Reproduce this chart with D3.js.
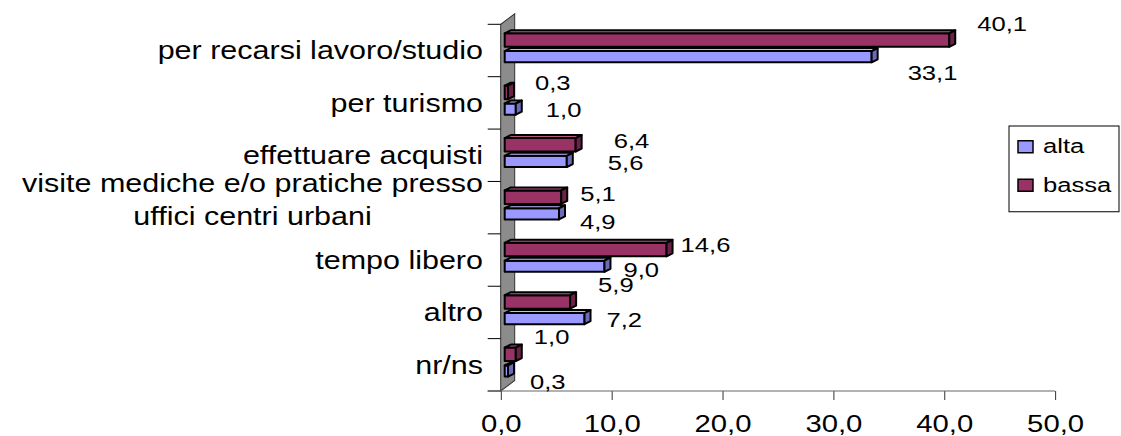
<!DOCTYPE html>
<html>
<head>
<meta charset="utf-8">
<script src="https://cdn.jsdelivr.net/npm/d3@7"></script>
<style>
body { margin: 0; background: #fff; }
text { font-family: "Liberation Sans", Arial, sans-serif; fill: #000; }
</style>
</head>
<body>
<div id="chart"></div>
<script>
// data
var categories = ["per recarsi lavoro/studio", "per turismo", "effettuare acquisti",
    "visite mediche e/o pratiche presso\nuffici centri urbani", "tempo libero", "altro", "nr/ns"];
var alta  = [33.1, 1.0, 5.6, 4.9, 9.0, 7.2, 0.3];
var bassa = [40.1, 0.3, 6.4, 5.1, 14.6, 5.9, 1.0];
var seriesNames = ["alta", "bassa"];
var xTicks = [0, 10, 20, 30, 40, 50];

// label nudges (layout only): x offset past bar end, baseline offset from band top
var bassaLabelDx = [22, 21, 32, 13, 8, 22, 12];
var bassaLabelDy = [7.2, 13.3, 18.5, 19.8, 18.4, 5.7, 4.9];
var altaLabelDx  = [30, 24, 35, 15, 13, 16, 16];
var altaLabelDy  = [55.7, 40.3, 41.2, 47.1, 43.1, 40.7, 49.9];

var W = 1121, H = 436;
var K = 1.22; // the original picture is stretched horizontally
var r = function(v) { return v / K; };

var svg = d3.select("#chart").append("svg")
    .attr("width", W).attr("height", H)
    .attr("viewBox", "0 0 " + (W / K) + " " + H)
    .attr("preserveAspectRatio", "none");

var x = d3.scaleLinear().domain([0, 50]).range([r(500.7), r(1055)]);
var y = d3.scaleBand().domain(categories).range([24.3, 391]);
var fmt = function(v) { return d3.format(".1f")(v).replace(".", ","); };

var colors = {
    alta:  { front: "#9999ff", top: "#bdbdff", side: "#6b6bb8" },
    bassa: { front: "#993366", top: "#b45785", side: "#6a2246" }
};
var depthX = r(6), depthY = -3;
var wallDx = r(14), wallDy = -10.5;

// wall
var yTop = y.range()[0], yBot = y.range()[1];
svg.append("polygon")
    .attr("points", [[x(0), yBot], [x(0), yTop], [x(0) + wallDx, yTop + wallDy], [x(0) + wallDx, yBot + wallDy]].join(" "))
    .attr("fill", "#8c8c8c").attr("stroke", "#333").attr("stroke-width", 1)
    .attr("vector-effect", "non-scaling-stroke");

// category ticks
var bounds = categories.map(function(c) { return y(c); }).concat([yBot]);
svg.selectAll(".ctick").data(bounds).enter().append("line")
    .attr("x1", x(0) - r(13)).attr("x2", x(0))
    .attr("y1", function(d) { return d; }).attr("y2", function(d) { return d; })
    .attr("stroke", "#000").attr("stroke-width", 1).attr("vector-effect", "non-scaling-stroke");

// x axis
var xAxis = d3.axisBottom(x).tickValues(xTicks).tickFormat(fmt).tickSize(9).tickSizeOuter(0);
var gx = svg.append("g").attr("transform", "translate(0," + yBot + ")").call(xAxis);
gx.select(".domain").remove();
gx.selectAll(".tick line").attr("stroke", "#333").attr("vector-effect", "non-scaling-stroke");
gx.selectAll(".tick text").attr("y", 41).attr("dy", 0)
    .style("font-size", "24px").style("font-family", "'Liberation Sans', Arial, sans-serif").attr("fill", "#000");
gx.append("line").attr("x1", x(0) - r(13)).attr("x2", x(50)).attr("y1", 0).attr("y2", 0)
    .attr("stroke", "#666").attr("stroke-width", 1.2).attr("vector-effect", "non-scaling-stroke");

// category labels
var labelX = r(483);
categories.forEach(function(c) {
    var lines = c.split("\n");
    var cy = y(c) + y.bandwidth() / 2;
    if (lines.length == 1) {
        svg.append("text").attr("x", labelX).attr("y", cy + 9)
            .attr("text-anchor", "end").style("font-size", "25px").text(c);
    } else {
        var t1 = svg.append("text").attr("x", labelX).attr("y", cy - 15.7)
            .attr("text-anchor", "end").style("font-size", "25px").text(lines[0]);
        var w1 = t1.node().getComputedTextLength();
        svg.append("text").attr("x", labelX - w1 / 2).attr("y", cy + 17.3)
            .attr("text-anchor", "middle").style("font-size", "25px").text(lines[1]);
    }
});

// 3d bars
function box(g, x0, x1, top, bot, col) {
    var st = function(s) { return s.attr("stroke", "#000").attr("stroke-width", 2)
        .attr("stroke-linejoin", "round").attr("vector-effect", "non-scaling-stroke"); };
    st(g.append("rect").attr("x", x0).attr("y", top).attr("width", Math.max(0, x1 - x0))
        .attr("height", bot - top).attr("fill", col.front));
    st(g.append("polygon").attr("points", [[x0, top], [x0 + depthX, top + depthY],
        [x1 + depthX, top + depthY], [x1, top]].join(" ")).attr("fill", col.top));
    st(g.append("polygon").attr("points", [[x1, top], [x1 + depthX, top + depthY],
        [x1 + depthX, bot + depthY], [x1, bot]].join(" ")).attr("fill", col.side));
}

var barShift = r(4);
var bars = svg.append("g");
categories.forEach(function(c, i) {
    var T = y(c);
    var g = bars.append("g");
    box(g, x(0) + barShift, x(alta[i]) + barShift, T + 26.8, T + 38, colors.alta);
    box(g, x(0) + barShift, x(bassa[i]) + barShift, T + 9, T + 22.5, colors.bassa);
});

// data labels
var labels = svg.append("g").style("font-size", "21px");
categories.forEach(function(c, i) {
    var T = y(c);
    labels.append("text")
        .attr("x", x(bassa[i]) + barShift + depthX + r(bassaLabelDx[i]))
        .attr("y", T + bassaLabelDy[i]).text(fmt(bassa[i]));
    labels.append("text")
        .attr("x", x(alta[i]) + barShift + depthX + r(altaLabelDx[i]))
        .attr("y", T + altaLabelDy[i]).text(fmt(alta[i]));
});

// legend
var leg = svg.append("g");
leg.append("rect").attr("x", r(1009)).attr("y", 126).attr("width", r(110)).attr("height", 85.7)
    .attr("fill", "#fff").attr("stroke", "#000").attr("stroke-width", 1).attr("vector-effect", "non-scaling-stroke");
seriesNames.forEach(function(s, i) {
    var yy = 140.7 + i * 38.5;
    leg.append("rect").attr("x", r(1018)).attr("y", yy).attr("width", r(15)).attr("height", 12)
        .attr("fill", colors[s].front).attr("stroke", "#000").attr("stroke-width", 1.5)
        .attr("vector-effect", "non-scaling-stroke");
    leg.append("text").attr("x", r(1043)).attr("y", yy + 12.5).style("font-size", "21px").text(s);
});
</script>
</body>
</html>
